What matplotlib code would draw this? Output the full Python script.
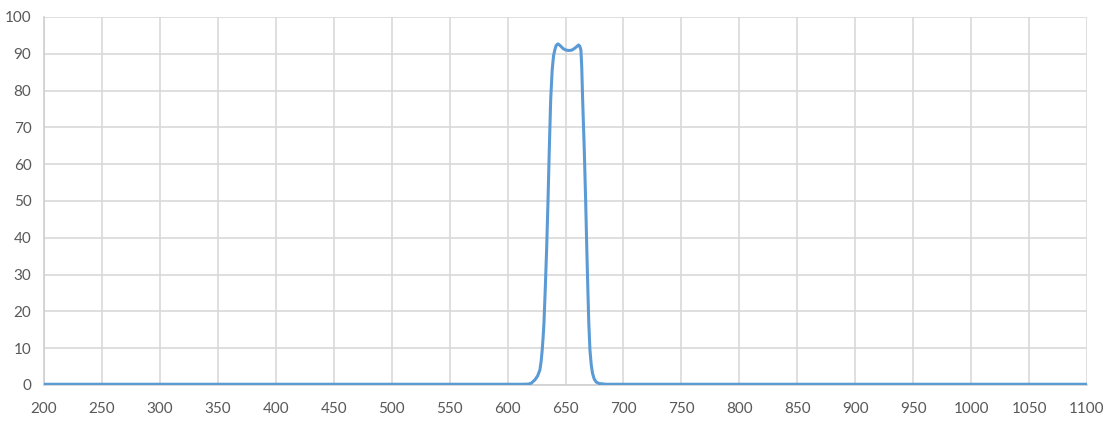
import matplotlib
matplotlib.use("Agg")
import matplotlib.pyplot as plt

# Wavelength (nm) and transmittance (%)
wavelength = [200, 250, 300, 350, 400, 450, 500, 550, 600, 612, 618, 620.5, 623.6, 626.0,
              627.9, 629.0, 629.9, 630.7, 631.4, 632.5, 633.7, 634.9, 636.0, 637.2, 638.5,
              639.7, 640.9, 642.0, 643.5, 645.5, 648, 650.5, 653, 655.5, 657.5, 659.5,
              661.2, 662.3, 663.3, 664.0, 664.8, 666.2, 667.4, 668.4, 669.3, 670.1, 671.1,
              672.2, 673.3, 674.8, 676.5, 679, 685, 700, 750, 800, 850, 900, 950, 1000,
              1050, 1100]
transmittance = [0.2, 0.2, 0.2, 0.2, 0.2, 0.2, 0.2, 0.2, 0.2, 0.2, 0.25, 0.5, 1.4, 2.5,
                 4.1, 6.5, 9.5, 13.0, 16.8, 25.8, 36.7, 50.0, 63.9, 77.4, 85.6,
                 89.5, 91.2, 92.3, 92.7, 92.2, 91.4, 91.0, 90.9, 91.0, 91.4, 91.9,
                 92.4, 92.1, 91.0, 86.5, 77.4, 63.9, 50.0, 36.7, 25.8, 16.8, 9.5,
                 5.5, 3.2, 1.6, 0.8, 0.4, 0.2, 0.2, 0.2, 0.2, 0.2, 0.2, 0.2, 0.2,
                 0.2, 0.2]

x_ticks = list(range(200, 1101, 50))
y_ticks = list(range(0, 101, 10))

plt.rcParams['font.family'] = ['Lato', 'DejaVu Sans']

fig = plt.figure(figsize=(11.15, 4.30), dpi=100)
ax = fig.add_axes([44 / 1115, 45 / 430, (1087 - 44) / 1115, (385 - 17) / 430])

ax.plot(wavelength, transmittance, color='#5B9BD5', linewidth=2.2, solid_capstyle='round',
        solid_joinstyle='round', zorder=3)

ax.set_xlim(200, 1100)
ax.set_ylim(0, 100)
ax.set_xticks(x_ticks)
ax.set_yticks(y_ticks)
ax.set_xticklabels([str(v) for v in x_ticks])
ax.set_yticklabels([str(v) for v in y_ticks])

ax.grid(True, color='#d9d9d9', linewidth=1.2, zorder=0)
ax.set_axisbelow(True)
for side in ['top', 'right']:
    ax.spines[side].set_visible(False)
ax.spines['left'].set_color('#d0d0d0')
ax.spines['left'].set_linewidth(1.2)
ax.spines['bottom'].set_color('#d0d0d0')
ax.spines['bottom'].set_linewidth(1.2)

ax.tick_params(axis='both', length=0, labelsize=11, labelcolor='#595959')
ax.tick_params(axis='x', pad=12)
ax.tick_params(axis='y', pad=9)

fig.savefig('out.png', dpi=100, facecolor='white')
